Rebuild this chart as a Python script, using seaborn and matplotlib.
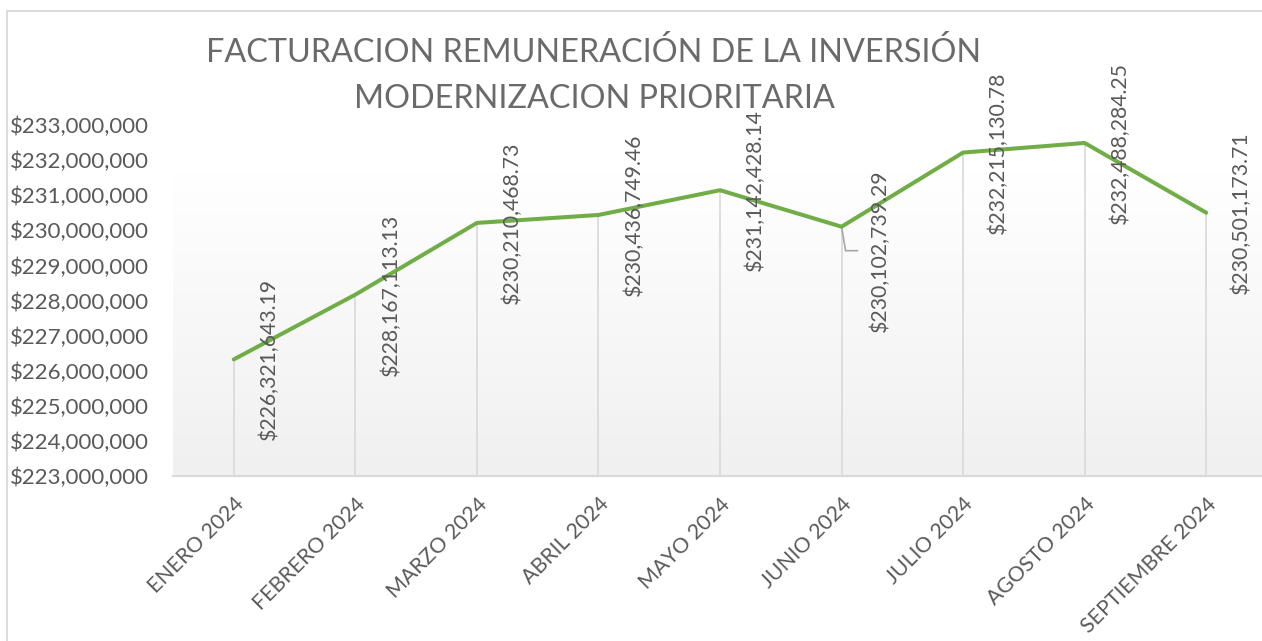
import numpy as np
import pandas as pd
import matplotlib
matplotlib.use("Agg")
import matplotlib.pyplot as plt
import matplotlib.transforms as mtransforms
from matplotlib.patches import Rectangle
import seaborn as sns

months = ["ENERO 2024", "FEBRERO 2024", "MARZO 2024", "ABRIL 2024", "MAYO 2024",
          "JUNIO 2024", "JULIO 2024", "AGOSTO 2024", "SEPTIEMBRE 2024"]
values = [226321643.19, 228167113.13, 230210468.73, 230436749.46, 231142428.14,
          230102739.29, 232215130.78, 232488284.25, 230501173.71]
yticks = [223000000 + 1000000 * i for i in range(11)]
title_lines = ["FACTURACION REMUNERACIÓN DE LA INVERSIÓN", "MODERNIZACION PRIORITARIA"]

sns.set_theme(style="white")
plt.rcParams["font.family"] = ["Lato", "DejaVu Sans"]

TXT = "#595959"
GRID = "#d9d9d9"
GREEN = "#70AD47"

W, H = 1262, 641
fig = plt.figure(figsize=(W / 100, H / 100), dpi=100)
fig.patch.set_facecolor("white")

# outer chart border
fig.patches.append(Rectangle((7 / W, -0.05), 1.1, (H - 11) / H + 0.05, transform=fig.transFigure,
                             fill=False, edgecolor=GRID, linewidth=1.3))

left, right, top, bottom = 173, 1267, 125, 476
ax = fig.add_axes([left / W, (H - bottom) / H, (right - left) / W, (bottom - top) / H])
ax.set_facecolor("none")

df = pd.DataFrame({"x": np.arange(len(months)), "valor": values})

# gradient plot area
grad = np.linspace(0, 1, 256).reshape(-1, 1)
c_top = np.array([1.0, 1.0, 1.0])
c_bot = np.array([0xf0, 0xf0, 0xf0]) / 255.0
img = c_bot[None, None, :] * grad[:, :, None] + c_top[None, None, :] * (1 - grad[:, :, None])
gtop = (bottom - 172) / (bottom - top)
ax.imshow(img, extent=(0, 1, 0, gtop), transform=ax.transAxes, aspect="auto", zorder=0,
          interpolation="bilinear")

# drop lines
ax.vlines(df["x"], yticks[0], df["valor"], color=GRID, linewidth=1.2, zorder=1)

sns.lineplot(data=df, x="x", y="valor", ax=ax, color=GREEN, linewidth=2.9, zorder=3,
             legend=False)

ax.set_xlim(-0.5, len(months) - 0.5)
ax.set_ylim(yticks[0], yticks[-1])
ax.set_yticks(yticks)
ax.set_yticklabels([f"${v:,.0f}" for v in yticks], fontsize=16, color=TXT)
ax.set_xticks(df["x"])
ax.set_xticklabels(months, rotation=45, ha="right", rotation_mode="anchor", fontsize=15.3,
                   color=TXT)
ax.tick_params(axis="y", length=0, pad=17)
ax.tick_params(axis="x", length=0, pad=13)
ax.set_xlabel("")
ax.set_ylabel("")
for s in ["left", "right", "top"]:
    ax.spines[s].set_visible(False)
ax.spines["bottom"].set_color(GRID)
ax.spines["bottom"].set_linewidth(1.5)

# data labels
for i, v in enumerate(values):
    dx, dy = 35, 0
    if i == 5:
        dx, dy = 38, -24
    tr = mtransforms.offset_copy(ax.transData, fig=fig, x=dx * 0.72, y=dy * 0.72, units="points")
    ax.text(i, v, f"${v:,.2f}", rotation=90, ha="center", va="center", fontsize=15.3,
            color=TXT, transform=tr, zorder=4)

# leader line for JUNIO label (offsets in pixels from the point)
i = 5
pts = np.array([(0, 0), (4, -24), (16, -24)], dtype=float)
disp0 = ax.transData.transform((i, values[i]))
segd = ax.transData.inverted().transform(disp0 + pts)
ax.plot(segd[:, 0], segd[:, 1], color="#a6a6a6", linewidth=1.2, zorder=2)

# title
fig.text(594 / W, (H - 53) / H, title_lines[0], ha="center", va="center", fontsize=23.3,
         color="#6a6a6a")
fig.text(594 / W, (H - 99) / H, title_lines[1], ha="center", va="center", fontsize=23.3,
         color="#6a6a6a")

fig.savefig("out.png", dpi=100)
